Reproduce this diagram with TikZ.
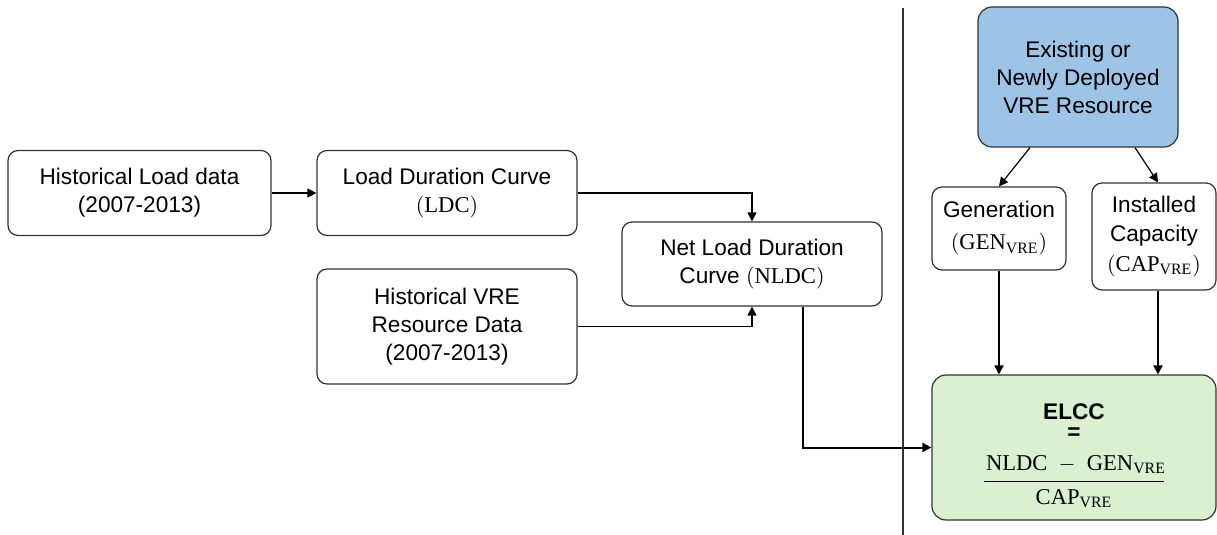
\documentclass[tikz,border=0pt]{standalone}
\usepackage{fontspec}
\setmainfont{Liberation Sans}
\setmathrm{Liberation Serif}
\usetikzlibrary{arrows.meta}
\definecolor{vreblue}{RGB}{157,195,230}
\definecolor{elccgreen}{RGB}{218,240,208}
\begin{document}
\begin{tikzpicture}[x=0.5pt,y=-0.5pt,
  box/.style={draw=black!80, line width=0.6pt, rounded corners=5pt, align=center, inner sep=0pt, font=\fontsize{11.3}{14}\selectfont},
  bigbox/.style={box, rounded corners=7pt},
  >={Triangle[length=4.5pt,width=4.5pt]}]
\useasboundingbox (0,0) rectangle (1217,535);
% left part
\node[box, minimum width=131.5pt, minimum height=42.5pt] (hld) at (139.5,193){Historical Load data\\(2007-2013)};
\node[box, minimum width=130pt, minimum height=42.5pt] (ldc) at (447,193){Load Duration Curve\\$(\mathrm{LDC})$};
\node[box, minimum width=130pt, minimum height=57.5pt] (vre) at (447,326.5){Historical VRE\\Resource Data\\(2007-2013)};
\node[box, minimum width=130pt, minimum height=42pt] (nldc) at (752,264){Net Load Duration\\Curve $(\mathrm{NLDC})$};
\draw[->, line width=0.6pt] (hld) -- (ldc);
\draw[->, line width=0.6pt] (ldc.east) -| (nldc.north);
\draw[->, line width=0.6pt] (vre.east) -| (nldc.south);
% divider
\draw[black!80, line width=0.6pt] (903,8) -- (903,535);
% right part
\node[bigbox, fill=vreblue, minimum width=100pt, minimum height=70pt] (exist) at (1078,77){Existing or\\Newly Deployed\\VRE Resource};
\node[box, minimum width=67pt, minimum height=41.5pt, font=\fontsize{11.3}{16}\selectfont] (gen) at (999,228.5){Generation\\$(\mathrm{GEN}_{\mathrm{VRE}})$};
\node[box, minimum width=62pt, minimum height=53.5pt, font=\fontsize{11.3}{14.75}\selectfont] (inst) at (1154,236.5){Installed\\Capacity\\$(\mathrm{CAP}_{\mathrm{VRE}})$};
\node[bigbox, fill=elccgreen, minimum width=142pt, minimum height=72.5pt] (elcc) at (1074,447.5){\rule{0pt}{16pt}\textbf{ELCC}\\[-4pt]\textbf{=}\\[7pt]$\displaystyle\frac{\makebox[90pt][l]{\hspace{1pt}$\mathrm{NLDC}\ -\ \mathrm{GEN}_{\mathrm{VRE}}$}\rule[-4pt]{0pt}{4pt}}{\rule{0pt}{10pt}\mathrm{CAP}_{\mathrm{VRE}}}$};
\draw[->, line width=0.6pt] ([xshift=-24pt]exist.south) -- (gen.north);
\draw[->, line width=0.6pt] ([xshift=28.5pt]exist.south) -- ([xshift=2pt]inst.north);
\draw[->, line width=1pt] (gen.south) -- (gen.south |- elcc.north);
\draw[->, line width=1pt] ([xshift=2pt]inst.south) -- ([xshift=2pt]inst.south |- elcc.north);
\draw[->, line width=1pt] ([xshift=25.5pt]nldc.south) |- (elcc.west);
\end{tikzpicture}
\end{document}
